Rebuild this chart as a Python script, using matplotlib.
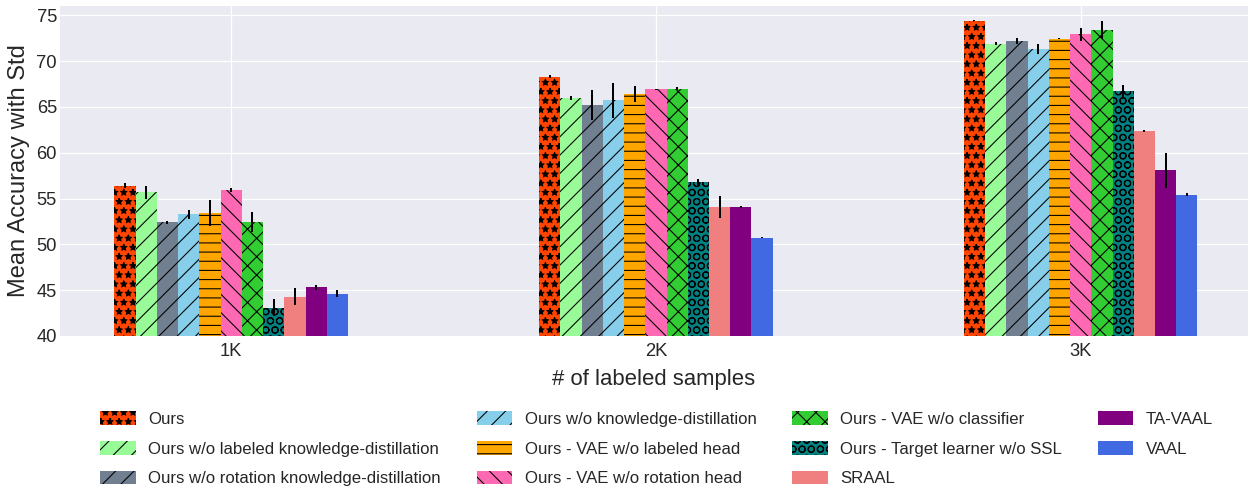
import numpy as np
import matplotlib
matplotlib.use('Agg')
import matplotlib.pyplot as plt

plt.style.use('seaborn-v0_8-darkgrid')
plt.rcParams['font.family'] = ['Liberation Sans', 'DejaVu Sans']
plt.rcParams['hatch.linewidth'] = 0.7

# group labels
groups = ['1K', '2K', '3K']

# method names (legend order)
methods = [
    'Ours',
    'Ours w/o labeled knowledge-distillation',
    'Ours w/o rotation knowledge-distillation',
    'Ours w/o knowledge-distillation',
    'Ours - VAE w/o labeled head',
    'Ours - VAE w/o rotation head',
    'Ours - VAE w/o classifier',
    'Ours - Target learner w/o SSL',
    'SRAAL',
    'TA-VAAL',
    'VAAL',
]

# mean accuracy per method for 1K, 2K, 3K
ours = [56.4, 68.3, 74.4]
wo_labeled_kd = [55.7, 66.0, 71.9]
wo_rotation_kd = [52.4, 65.2, 72.2]
wo_kd = [53.3, 65.7, 71.3]
vae_wo_labeled_head = [53.4, 66.4, 72.45]
vae_wo_rotation_head = [55.9, 66.9, 72.9]
vae_wo_classifier = [52.4, 67.0, 73.4]
tl_wo_ssl = [43.1, 56.8, 66.7]
sraal = [44.3, 54.1, 62.4]
ta_vaal = [45.3, 54.1, 58.1]
vaal = [44.6, 50.7, 55.4]

# std per method
ours_std = [0.3, 0.15, 0.05]
wo_labeled_kd_std = [0.7, 0.2, 0.15]
wo_rotation_kd_std = [0.15, 1.6, 0.35]
wo_kd_std = [0.5, 1.9, 0.55]
vae_wo_labeled_head_std = [1.4, 0.9, 0.05]
vae_wo_rotation_head_std = [0.2, 0.05, 0.7]
vae_wo_classifier_std = [1.1, 0.2, 0.95]
tl_wo_ssl_std = [0.9, 0.35, 0.7]
sraal_std = [0.9, 1.2, 0.1]
ta_vaal_std = [0.3, 0.1, 1.9]
vaal_std = [0.4, 0.05, 0.15]

means = [ours, wo_labeled_kd, wo_rotation_kd, wo_kd, vae_wo_labeled_head,
         vae_wo_rotation_head, vae_wo_classifier, tl_wo_ssl, sraal, ta_vaal, vaal]
stds = [ours_std, wo_labeled_kd_std, wo_rotation_kd_std, wo_kd_std,
        vae_wo_labeled_head_std, vae_wo_rotation_head_std, vae_wo_classifier_std,
        tl_wo_ssl_std, sraal_std, ta_vaal_std, vaal_std]

colors = ['#FF4500', '#98FB98', '#708090', '#87CEEB', '#FFA500', '#FF69B4',
          '#32CD32', '#008080', '#F08080', '#800080', '#4169E1']
hatches = ['**', '//', '//', '//', '--', '\\\\', 'xx', 'OO', '', '', '']

fig = plt.figure(figsize=(1250 / 110, 486 / 110), dpi=110)
ax = fig.add_axes([60 / 1250, 1 - 336 / 486, 1188 / 1250, 330 / 486])

x = np.arange(len(groups))
width = 0.05
for i, (m, s) in enumerate(zip(means, stds)):
    pos = x + (i - 5) * width
    ax.bar(pos, m, width, color=colors[i], hatch=hatches[i], edgecolor='black',
           linewidth=0, label=methods[i])
    ax.errorbar(pos, m, yerr=s, fmt='none', ecolor='black', elinewidth=1.3, capsize=0)

ax.set_ylim(40, 76)
ax.set_xlim(-0.403, 2.394)
ax.set_xticks(x)
ax.set_xticklabels(groups)
ax.tick_params(axis='y', labelsize=12, pad=2)
ax.tick_params(axis='x', labelsize=12, pad=4.5)
ax.set_xlabel('# of labeled samples', fontsize=14.5, labelpad=6)
ax.set_ylabel('Mean Accuracy with Std', fontsize=15.5, labelpad=4)

fig.legend(loc='upper left', bbox_to_anchor=(92 / 1250, 1 - 403 / 486), ncol=4,
           frameon=False, fontsize=11, handlelength=2.1, handleheight=0.87,
           handletextpad=0.75, columnspacing=2.13, labelspacing=0.83, borderpad=0)

fig.savefig('out.png', dpi=110)
